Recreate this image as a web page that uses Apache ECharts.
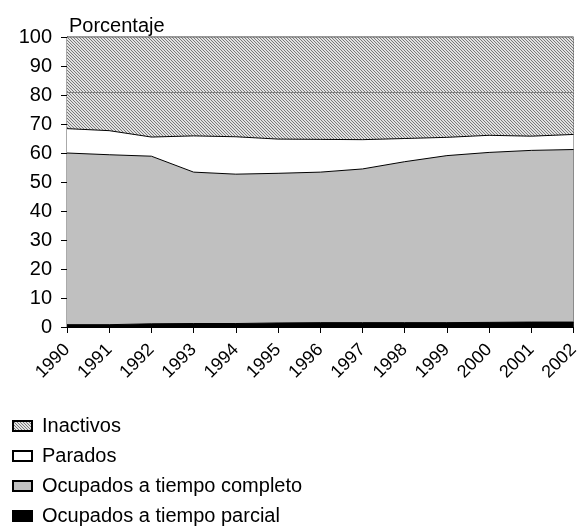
<!DOCTYPE html>
<html>
<head>
<meta charset="utf-8">
<script src="https://cdn.jsdelivr.net/npm/echarts@6/dist/echarts.min.js"></script>
<style>
html, body { margin: 0; padding: 0; background: #fff; }
#chart { width: 582px; height: 527px; }
</style>
</head>
<body>
<div id="chart"></div>
<script>
// years on the x axis
var years = ['1990','1991','1992','1993','1994','1995','1996','1997','1998','1999','2000','2001','2002'];
// percentages, bottom to top of the stack
var parcial   = [0.8, 0.8, 1.1, 1.2, 1.2, 1.4, 1.5, 1.5, 1.5, 1.5, 1.6, 1.7, 1.7];
var completo  = [59.2, 58.6, 57.8, 52.2, 51.5, 51.6, 51.9, 53.0, 55.5, 57.6, 58.6, 59.2, 59.5];
var parados   = [8.4, 8.3, 6.6, 12.5, 12.9, 11.8, 11.3, 10.1, 8.0, 6.3, 5.9, 4.9, 5.2];
var inactivos = [31.6, 32.3, 34.5, 34.1, 34.4, 35.2, 35.3, 35.4, 35.0, 34.6, 33.9, 34.2, 33.6];
var yTicks = [0, 10, 20, 30, 40, 50, 60, 70, 80, 90, 100];

// fine hatch tile for Inactivos
function hatch() {
    var c = document.createElement('canvas');
    c.width = 3; c.height = 3;
    var ctx = c.getContext('2d');
    ctx.fillStyle = '#e2e2e2';
    ctx.fillRect(0, 0, 3, 3);
    ctx.fillStyle = '#7a7a7a';
    for (var y = 0; y < 3; y++) {
        for (var x = 0; x < 3; x++) {
            if (((x - y) % 3 + 3) % 3 === 0) ctx.fillRect(x, y, 1, 1);
        }
    }
    return { image: c, repeat: 'repeat' };
}

var font = 'Liberation Sans, Arial, sans-serif';
var myChart = echarts.init(document.getElementById('chart'));

function area(name, data, color, lineColor, z) {
    return {
        name: name,
        type: 'line',
        stack: 'total',
        data: data,
        symbol: 'none',
        smooth: false,
        z: z,
        lineStyle: { color: lineColor, width: 1 },
        areaStyle: { color: color, opacity: 1 },
        itemStyle: { color: color, borderColor: '#000', borderWidth: 1 }
    };
}

var inact = area('Inactivos', inactivos, hatch(), '#666', 2);
inact.markLine = {
    silent: true,
    symbol: 'none',
    label: { show: false },
    lineStyle: { color: '#808080', width: 1, type: 'solid' },
    data: [{ yAxis: 81 }]
};

var option = {
    animation: false,
    title: {
        text: 'Porcentaje',
        left: 64,
        top: 11,
        textStyle: { fontFamily: font, fontSize: 20, fontWeight: 'normal', color: '#000' }
    },
    legend: {
        orient: 'vertical',
        left: 7,
        top: 411,
        height: 140,
        itemWidth: 19,
        itemHeight: 10,
        itemGap: 10,
        icon: 'rect',
        data: ['Inactivos', 'Parados', 'Ocupados a tiempo completo', 'Ocupados a tiempo parcial'],
        textStyle: { fontFamily: font, fontSize: 20, color: '#000', padding: [0, 0, 0, 5] }
    },
    grid: {
        left: 67,
        right: 8,
        top: 37,
        bottom: 200,
        show: true,
        borderColor: '#555',
        borderWidth: 1
    },
    xAxis: {
        type: 'category',
        data: years,
        boundaryGap: false,
        axisLine: { lineStyle: { color: '#000', width: 1 } },
        axisTick: { show: true, interval: 0, length: 6, lineStyle: { color: '#000' } },
        axisLabel: {
            interval: 0,
            rotate: 45,
            fontFamily: font,
            fontSize: 18,
            color: '#000',
            margin: 20
        },
        splitLine: { show: false }
    },
    yAxis: {
        type: 'value',
        min: yTicks[0],
        max: yTicks[yTicks.length - 1],
        interval: 10,
        axisLine: { show: true, lineStyle: { color: '#000', width: 1 } },
        axisTick: { show: true, length: 6, lineStyle: { color: '#000' } },
        axisLabel: { fontFamily: font, fontSize: 20, color: '#000', margin: 15 },
        splitLine: { show: false }
    },
    series: [
        area('Ocupados a tiempo parcial', parcial, '#000000', '#000', 5),
        area('Ocupados a tiempo completo', completo, '#c0c0c0', '#000', 4),
        area('Parados', parados, '#ffffff', '#000', 3),
        inact
    ]
};

myChart.setOption(option);
window.addEventListener('resize', function () {
    myChart.resize();
});
</script>
</body>
</html>
